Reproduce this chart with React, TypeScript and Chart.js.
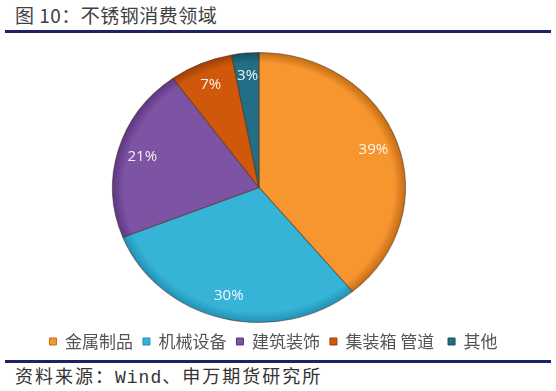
import React, { useEffect, useRef } from "react";
import { Chart, registerables } from "chart.js";

Chart.register(...registerables);

const TITLE = "图 10：不锈钢消费领域";
const categories = ["金属制品", "机械设备", "建筑装饰", "集装箱 管道 ", "其他"];
const values = [39, 30, 21, 7, 3];
const colors = ["#F7952F", "#36B3D7", "#7D53A3", "#D0580B", "#226E86"];
const rimColors = ["#C26A12", "#2190B5", "#5C3782", "#9B3E05", "#164F61"];

const SX = 1.085; // horizontal stretch of the pie (ellipse look)
const PIE_CX = 259; // page x of pie centre
const LABEL_R = 0.83;

const ellipsePlugin = {
  id: "ellipsePie",
  beforeDatasetsDraw(chart: any) {
    const arc = chart.getDatasetMeta(0).data[0];
    if (!arc) return;
    const ctx = chart.ctx;
    ctx.save();
    ctx.translate(PIE_CX, arc.y);
    ctx.scale(SX, 1);
    ctx.translate(-arc.x, -arc.y);
  },
  afterDatasetsDraw(chart: any) {
    const ctx = chart.ctx;
    ctx.restore();
    const meta = chart.getDatasetMeta(0);
    ctx.save();
    ctx.font = '15px "Open Sans", "Noto Sans", sans-serif';
    ctx.fillStyle = "rgba(255,255,255,0.92)";
    ctx.textAlign = "center";
    ctx.textBaseline = "middle";
    meta.data.forEach((arc: any, i: number) => {
      const p = arc.getProps(["x", "y", "startAngle", "endAngle", "outerRadius"], true);
      const mid = (p.startAngle + p.endAngle) / 2;
      const r = p.outerRadius * LABEL_R;
      const lx = PIE_CX + Math.cos(mid) * r * SX;
      const ly = p.y + Math.sin(mid) * r;
      ctx.fillText(values[i] + "%", lx, ly);
    });
    ctx.restore();
  },
};

function sliceFill(c: any) {
  const i = c.dataIndex;
  const chart = c.chart;
  const area = chart.chartArea;
  if (!area || i === undefined) return colors[i] || colors[0];
  const cx = (area.left + area.right) / 2;
  const cy = (area.top + area.bottom) / 2;
  const r = Math.min(area.right - area.left, area.bottom - area.top) / 2;
  const g = chart.ctx.createRadialGradient(cx, cy, 0, cx, cy, r);
  g.addColorStop(0, colors[i]);
  g.addColorStop(0.92, colors[i]);
  g.addColorStop(1, rimColors[i]);
  return g;
}

export default function App() {
  const ref = useRef<HTMLCanvasElement | null>(null);
  useEffect(() => {
    if (!ref.current) return;
    const chart = new Chart(ref.current, {
      type: "pie",
      data: {
        labels: categories,
        datasets: [
          {
            data: values,
            backgroundColor: sliceFill as any,
            borderColor: "rgba(70,40,15,0.5)",
            borderWidth: 1,
          },
        ],
      },
      options: {
        animation: false,
        responsive: false,
        events: [],
        layout: { padding: { top: 12, right: 9 } },
        plugins: {
          tooltip: { enabled: false },
          legend: {
            position: "bottom",
            labels: {
              boxWidth: 7,
              boxHeight: 7,
              padding: 10,
              color: "#555555",
              font: { family: '"Noto Sans CJK SC", sans-serif', size: 17 },
              generateLabels: (ch: any) => {
                const base = (Chart as any).overrides.pie.plugins.legend.labels.generateLabels(ch);
                return base.map((l: any, i: number) => ({
                  ...l,
                  fillStyle: colors[i],
                  strokeStyle: rimColors[i],
                  lineWidth: 1,
                }));
              },
            },
          },
        },
      },
      plugins: [ellipsePlugin],
    });
    return () => chart.destroy();
  }, []);

  const line: React.CSSProperties = {
    position: "absolute",
    left: 5,
    width: 546,
    height: 3,
    background: "#1d206b",
  };

  return (
    <div style={{ position: "absolute", left: 0, top: 0, width: 556, height: 391, background: "#ffffff", overflow: "hidden" }}>
      <div
        style={{
          position: "absolute",
          left: 15,
          top: 4,
          fontSize: 19,
          lineHeight: "22px",
          letterSpacing: "0.5px",
          color: "#3f3f3f",
          fontFamily: '"Noto Sans CJK SC", sans-serif',
          whiteSpace: "nowrap",
        }}
      >
        {TITLE}
      </div>
      <div style={{ ...line, top: 30 }} />
      <canvas ref={ref} width={556} height={320} style={{ position: "absolute", left: 0, top: 40, width: 556, height: 320 }} />
      <div style={{ ...line, top: 360 }} />
      <div
        style={{
          position: "absolute",
          left: 15,
          top: 364,
          fontSize: 18,
          lineHeight: "22px",
          letterSpacing: "2px",
          color: "#333333",
          fontFamily: '"Noto Sans CJK SC", sans-serif',
          whiteSpace: "nowrap",
        }}
      >
        资料来源：<span style={{ fontFamily: '"Liberation Mono", monospace', letterSpacing: "1px" }}>Wind</span>、申万期货研究所
      </div>
    </div>
  );
}
